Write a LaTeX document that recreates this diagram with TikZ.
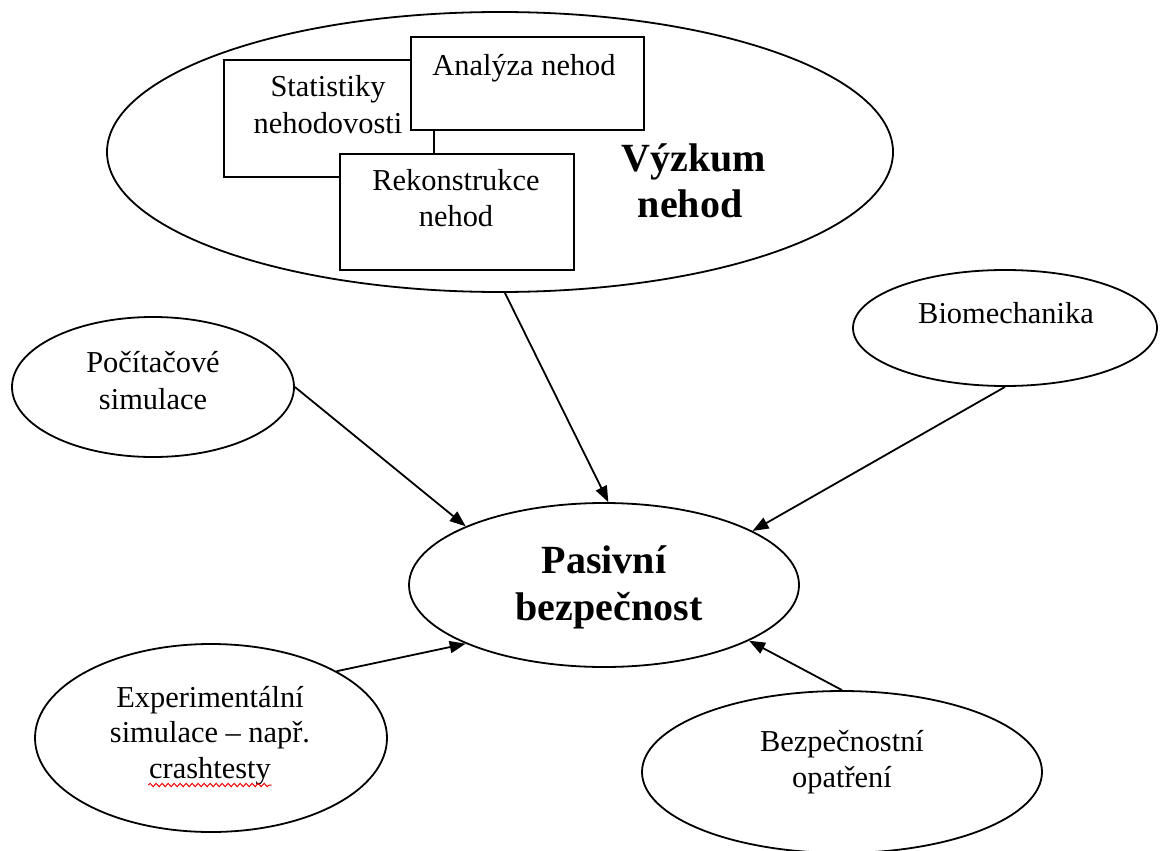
\documentclass[tikz,border=0pt]{standalone}
\usepackage{fontspec}
\setmainfont{Liberation Serif}
\usetikzlibrary{arrows.meta,shapes.geometric,decorations.pathmorphing}
\begin{document}
\begin{tikzpicture}[x=0.5pt,y=-0.5pt,
  line width=0.9pt,
  bubble/.style={draw, ellipse, inner sep=0pt, fill=white},
  panel/.style={draw, rectangle, inner sep=0pt, fill=white, anchor=north west},
  txt/.style={anchor=base, inner sep=0pt, font=\fontsize{15.2}{18}\selectfont},
  head/.style={anchor=base, inner sep=0pt, font=\fontsize{20}{24}\selectfont\bfseries},
  link/.style={-{Triangle[length=8pt,width=6pt]}},
  spell/.style={draw=red, line width=0.5pt, decorate,
    decoration={snake, amplitude=0.8pt, segment length=3pt}}
]
\useasboundingbox (0,0) rectangle (1160,850);

% accident research with its three overlapping panels
\node[bubble, minimum width=393pt, minimum height=140pt] (research) at (500,152) {};
\node[panel, minimum width=105pt, minimum height=58.5pt] (stat) at (223,59) {};
\node[panel, minimum width=116.5pt, minimum height=46.5pt] (anal) at (410,36) {};
\node[panel, minimum width=117pt, minimum height=58pt] (rek) at (339,153) {};

\node[txt] (statA) at (328,97) {Statistiky};
\node[txt] (statB) at (328,134) {nehodovosti};
\node[txt] (analA) at (524,76) {Analýza nehod};
\node[txt] (rekA) at (456,191) {Rekonstrukce};
\node[txt] (rekB) at (456,227) {nehod};
\node[head] (vyzA) at (694,172) {Výzkum};
\node[head] (vyzB) at (690,218) {nehod};

% surrounding topics
\node[bubble, minimum width=141pt, minimum height=70pt] (pc) at (153,387) {};
\node[txt] (pcA) at (153,372) {Počítačové};
\node[txt] (pcB) at (153,409) {simulace};

\node[bubble, minimum width=152pt, minimum height=58pt] (bio) at (1005,328) {};
\node[txt] (bioA) at (1006,323) {Biomechanika};

\node[bubble, minimum width=176pt, minimum height=94pt] (exp) at (211,738) {};
\node[txt] (expA) at (210,707) {Experimentální};
\node[txt] (expB) at (210,742) {simulace – např.};
\node[txt] (expC) at (210,778) {crashtesty};
\draw[spell] ([yshift=-3.5pt]expC.base west) -- ([yshift=-3.5pt]expC.base east);

\node[bubble, minimum width=200pt, minimum height=81pt] (bez) at (842,772) {};
\node[txt] (bezA) at (842,751) {Bezpečnostní};
\node[txt] (bezB) at (842,787) {opatření};

% central topic
\node[bubble, minimum width=195pt, minimum height=82pt] (pas) at (604,585) {};
\node[head] (pasA) at (604,573) {Pasivní};
\node[head] (pasB) at (609,620) {bezpečnost};

% influences
\draw[link] (research.272) -- (pas.87);
\draw[link] (pc.east) -- (pas.157);
\draw[link] (bio.south) -- (pas.20);
\draw[link] (exp.28) -- (pas.203);
\draw[link] (bez.north) -- (pas.339);
\end{tikzpicture}
\end{document}
